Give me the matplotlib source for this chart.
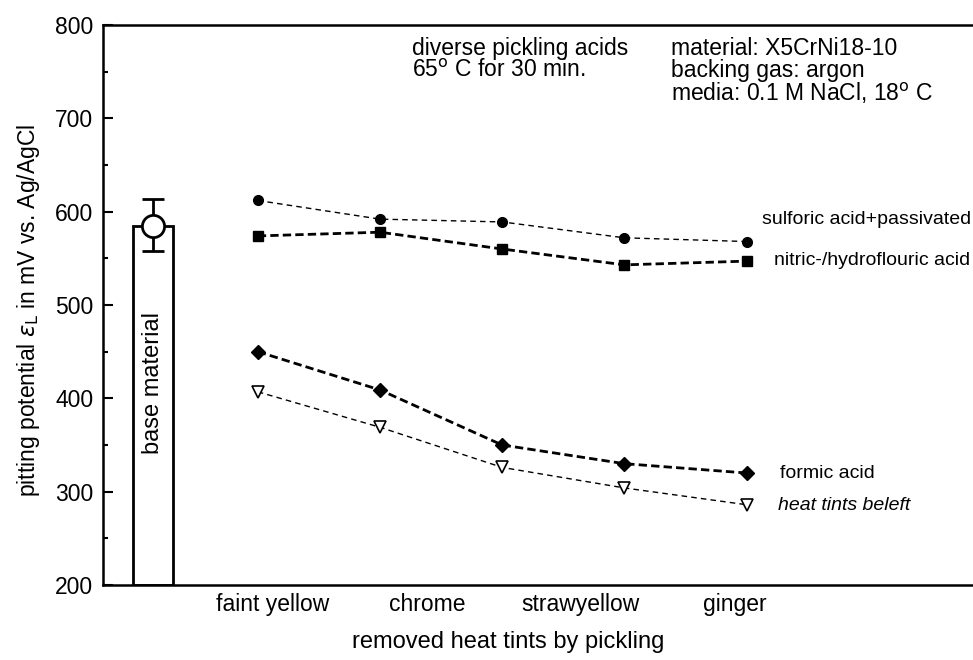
import matplotlib
matplotlib.use("Agg")
import matplotlib.pyplot as plt
from matplotlib.ticker import MultipleLocator

plt.rcParams['font.family'] = ['Liberation Sans', 'DejaVu Sans']

# ---- data ----
categories = ["faint yellow", "chrome", "strawyellow", "ginger"]
x_points = [1, 2, 3, 4, 5]
sulforic = [612, 592, 589, 572, 568]
nitric = [574, 578, 560, 543, 547]
formic = [450, 409, 350, 330, 320]
heat_tints = [407, 369, 326, 304, 286]
base_value = 585
base_err_low = 27
base_err_high = 29
series_labels = ["sulforic acid+passivated", "nitric-/hydroflouric acid",
                 "formic acid", "heat tints beleft"]

fig = plt.figure(figsize=(9.73, 6.6), dpi=100)
ax = fig.add_axes([103/973, 75/660, 0.905, 560/660])

# base material bar
bar_x = 0.144
ax.bar(bar_x, base_value - 200, bottom=200, width=0.33, color='white',
       edgecolor='black', linewidth=2, zorder=2)
ax.errorbar(bar_x, base_value, yerr=[[base_err_low], [base_err_high]],
            fmt='o', ms=16, mfc='white', mec='black', mew=2, ecolor='black',
            elinewidth=2, capsize=8, capthick=2, zorder=3)
ax.text(bar_x, 416, "base material", rotation=90, ha='center', va='center',
        fontsize=17)

# series
ax.plot(x_points, sulforic, color='black', lw=1, ls=(0, (4, 3)), marker='o',
        ms=7, mfc='black', mec='black')
ax.plot(x_points, nitric, color='black', lw=2, ls=(0, (3, 1.5)), marker='s',
        ms=6.5, mfc='black', mec='black')
ax.plot(x_points, formic, color='black', lw=2, ls=(0, (3, 1.5)), marker='D',
        ms=7, mfc='black', mec='black')
ax.plot(x_points, heat_tints, color='black', lw=1, ls=(0, (4, 3)), marker='v',
        ms=9, mfc='white', mec='black', mew=1.2)

# series labels
label_offsets = [(15, 22), (27, 1), (33, 0), (31, -1)]
series_vals = [sulforic, nitric, formic, heat_tints]
styles = ['normal', 'normal', 'normal', 'italic']
for lab, vals, off, st in zip(series_labels, series_vals, label_offsets, styles):
    ax.annotate(lab, (x_points[-1], vals[-1]), xytext=(off[0], off[1]),
                textcoords='offset pixels', ha='left', va='center',
                fontsize=14, style=st)

# top annotations
fig.text(412/973, 1 - 37/660, "diverse pickling acids\n65$^{\\rm o}$ C for 30 min.",
         ha='left', va='top', fontsize=16.5, linespacing=0.95)
fig.text(671/973, 1 - 37/660,
         "material: X5CrNi18-10\nbacking gas: argon\nmedia: 0.1 M NaCl, 18$^{\\rm o}$ C",
         ha='left', va='top', fontsize=16.5, linespacing=0.95)

# axes
ax.set_xlim(-0.267, 6.94)
ax.set_ylim(200, 800)
ax.yaxis.set_major_locator(MultipleLocator(100))
ax.yaxis.set_minor_locator(MultipleLocator(50))
ax.tick_params(axis='y', which='major', direction='in', length=7, width=1.5,
               labelsize=16.5, pad=7)
ax.tick_params(axis='y', which='minor', direction='in', length=3.5, width=1.5)
tick_pos = [1.123 + 1.26 * i for i in range(len(categories))]
ax.set_xticks(tick_pos)
ax.set_xticklabels(categories, fontsize=16.5)
ax.tick_params(axis='x', length=0, pad=6)
ax.tick_params(right=False, top=False)
for s in ax.spines.values():
    s.set_linewidth(1.8)

fig.text(508/973, 1 - 642/660, "removed heat tints by pickling",
         ha='center', va='center', fontsize=17)
fig.text(29/973, 1 - 310/660, "pitting potential $\\epsilon_{\\rm L}$ in mV vs. Ag/AgCl",
         rotation=90, ha='center', va='center', fontsize=16.5)

fig.savefig("out.png", dpi=100)
